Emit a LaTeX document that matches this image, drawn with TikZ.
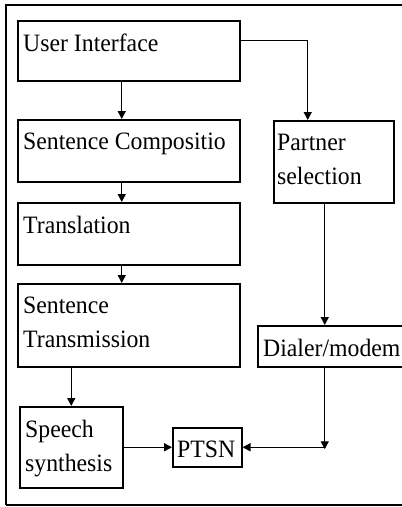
\documentclass[tikz,border=0pt]{standalone}
\usepackage{fontspec}
\setmainfont[FakeStretch=0.95]{Liberation Serif}
\usetikzlibrary{arrows.meta}
\begin{document}
\begin{tikzpicture}[x=1pt,y=-1pt,
  block/.style={draw, line width=1.5pt, rectangle, anchor=north west, inner sep=0pt},
  lbl/.style={anchor=north west, inner sep=0pt, align=left, font=\fontsize{25}{34}\selectfont},
  flow/.style={line width=1.4pt, -{Triangle[length=8pt,width=8pt]}}]
\useasboundingbox (0,0) rectangle (402,507);
\clip (0,0) rectangle (402,507);
% outer frame, open on the right
\draw[line width=1.3pt] (404,5) -- (6,5) -- (6,505);
\draw[line width=2pt] (6,505) -- (404,505);
% blocks
\node[block, minimum width=222pt, minimum height=60pt] (ui) at (17,20) {};
\node[block, minimum width=222pt, minimum height=62pt] (sc) at (17,119) {};
\node[block, minimum width=222pt, minimum height=62pt] (tr) at (17,202) {};
\node[block, minimum width=222pt, minimum height=83pt] (st) at (17,283) {};
\node[block, minimum width=120pt, minimum height=82pt] (ps) at (273,120) {};
\node[block, minimum width=150pt, minimum height=41pt] (dm) at (257,325) {};
\node[block, minimum width=103pt, minimum height=81pt] (ss) at (19,406) {};
\node[block, minimum width=69pt, minimum height=39pt] (pt) at (172,427) {};
% labels
\node[lbl] (uiT) at ([xshift=6pt,yshift=-14pt]ui.north west) {User Interface};
\node[lbl] (scT) at ([xshift=6pt,yshift=-14pt]sc.north west) {Sentence Compositio};
\node[lbl] (trT) at ([xshift=6pt,yshift=-14pt]tr.north west) {Translation};
\node[lbl] (stT) at ([xshift=6pt,yshift=-14pt]st.north west) {Sentence\\Transmission};
\node[lbl] (psT) at ([xshift=4pt,yshift=-14pt]ps.north west) {Partner\\selection};
\node[lbl] (dmT) at ([xshift=6pt,yshift=-14pt]dm.north west) {Dialer/modem};
\node[lbl] (ssT) at ([xshift=6pt,yshift=-14pt]ss.north west) {Speech\\synthesis};
\node[lbl] (ptT) at ([xshift=5pt,yshift=-14pt]pt.north west) {PTSN};
% connectors
\coordinate (corner) at ([xshift=-8pt]dm.south |- pt.east);
\draw[flow] ([xshift=-7pt]ui.south) -- ([xshift=-7pt]sc.north);
\draw[flow] ([xshift=-7pt]sc.south) -- ([xshift=-7pt]tr.north);
\draw[flow] ([xshift=-7pt]tr.south) -- ([xshift=-7pt]st.north);
\draw[flow] ([yshift=10pt]ui.east) -| ([xshift=-26pt]ps.north);
\draw[flow] (ps.south -| corner) -- (dm.north -| corner);
\draw[flow] (dm.south -| corner) -- ([yshift=-2pt]corner);
\draw[flow] (corner) -- (pt.east);
\draw[flow] (ss.north |- st.south) -- (ss.north);
\draw[flow] (ss.east) -- (pt.west);
\end{tikzpicture}
\end{document}
